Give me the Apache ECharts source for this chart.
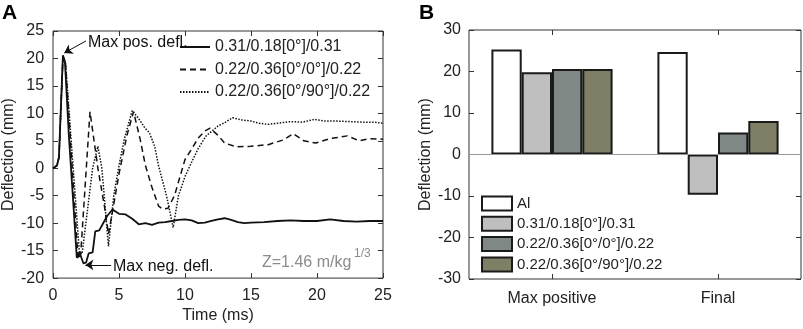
<!DOCTYPE html>
<html>
<head>
<meta charset="utf-8">
<script src="https://cdn.jsdelivr.net/npm/echarts@6/dist/echarts.min.js"></script>
<style>
  html, body { margin: 0; padding: 0; background: #fff; }
  #chart { width: 803px; height: 329px; }
</style>
</head>
<body>
<div id="chart"></div>
<script>
// panel A: deflection-time histories
const tSolid = [0, 0.3, 0.45, 0.75, 0.9, 1.2, 1.5, 1.8, 2.0, 2.3, 2.5, 2.7, 3.0, 3.2, 3.5, 3.8, 4.1, 4.5, 5.0, 5.5, 6.0, 6.5, 7.0, 7.5, 8.0, 8.5, 9.0, 9.5, 10.0, 10.5, 11.0, 11.5, 12.0, 12.5, 13.0, 13.5, 14.0, 14.5, 15.0, 16.0, 17.0, 18.0, 19.0, 20.0, 21.0, 22.0, 23.0, 24.0, 25.0]
const vSolid = [0, 0.5, 2, 20.6, 19.5, 6, -5, -16.3, -15.3, -17.3, -17.2, -15.5, -15.3, -11.5, -11.3, -10, -8.7, -7.5, -8.3, -8.4, -9.2, -10.2, -10.0, -10.3, -9.9, -9.8, -9.6, -9.4, -9.3, -9.5, -10, -9.9, -9.6, -9.3, -9.1, -9.4, -9.8, -10, -9.9, -9.8, -9.6, -9.5, -9.6, -9.6, -9.3, -9.6, -9.7, -9.6, -9.6]

const tDash = [0, 0.3, 0.45, 0.75, 0.95, 1.9, 2.1, 2.8, 3.4, 3.9, 4.2, 4.5, 5.0, 5.6, 6.1, 6.6, 7.0, 7.5, 8.0, 8.3, 8.7, 9.2, 10.0, 10.5, 11.0, 11.5, 11.9, 12.5, 13.0, 13.9, 15.0, 16.3, 17.5, 18.2, 19.0, 19.9, 21.0, 22.3, 23.2, 24.0, 25.0]
const vDash = [0, 0.5, 2, 20.3, 19, -16.6, -15.5, 10.3, 0, -7, -12, -8, -1, 6, 10.3, 5.3, 0.5, -3.5, -6.9, -7.4, -7.3, -5, 1.6, 3.5, 5.5, 6.8, 7.3, 6.0, 4.6, 3.9, 4.0, 4.3, 5.2, 6.3, 5.0, 4.6, 5.4, 5.9, 5.0, 5.4, 5.3]

const tDot = [0, 0.3, 0.45, 0.75, 0.95, 2.0, 2.2, 3.0, 3.4, 3.7, 4.2, 4.6, 5.0, 5.4, 6.0, 6.5, 7.0, 7.3, 7.7, 8.0, 8.6, 9.1, 9.5, 10.0, 10.5, 11.0, 11.6, 12.5, 13.0, 13.6, 14.3, 15.0, 15.6, 16.3, 17.0, 18.0, 18.9, 19.8, 20.6, 21.5, 22.5, 23.5, 24.3, 25.0]
const vDot = [0, 0.5, 2, 20.0, 19, -15.5, -15.6, 0, 4, 0, -14.2, -5, 0.5, 5.3, 10.5, 9, 7.2, 6.5, 4, 0.4, -5, -10.8, -5, -1.5, 1.1, 3.6, 5.9, 7.7, 8.3, 9.2, 8.8, 8.6, 8.2, 8.0, 8.2, 8.5, 8.4, 8.9, 8.6, 8.6, 8.5, 8.4, 8.4, 8.2]

const lineNames = ['0.31/0.18[0°]/0.31', '0.22/0.36[0°/0°]/0.22', '0.22/0.36[0°/90°]/0.22']

// panel B: bar values
const barCategories = ['Max positive', 'Final']
const barNames = ['Al', '0.31/0.18[0°]/0.31', '0.22/0.36[0°/0°]/0.22', '0.22/0.36[0°/90°]/0.22']
const barAl = [25.3, 24.7]
const barThin = [19.8, -9.7]
const barCross0 = [20.6, 5.3]
const barCross90 = [20.6, 8.1]
const barColors = ['#ffffff', '#bfbfbf', '#7f8884', '#7f7f66']

const font = 'Liberation Sans, Arial, sans-serif'
const zip = (t, v) => t.map((x, i) => [x, v[i]])

const chart = echarts.init(document.getElementById('chart'), null, { renderer: 'canvas' })

const tickIn = { show: true, inside: true, length: 5, lineStyle: { color: '#333' } }
const noLine = { show: false, onZero: false }
const labelStyle = { color: '#222', fontSize: 16, fontFamily: font }

const option = {
  animation: false,
  backgroundColor: '#fff',
  textStyle: { fontFamily: font },
  grid: [
    { left: 51, top: 31, width: 332, height: 248, show: true, borderColor: '#333', borderWidth: 1, backgroundColor: 'transparent' },
    { left: 469, top: 30, width: 332, height: 249, show: true, borderColor: '#333', borderWidth: 1, backgroundColor: 'transparent' }
  ],
  xAxis: [
    {
      type: 'value', gridIndex: 0, min: 0, max: 25, interval: 5,
      axisLine: noLine, axisTick: tickIn, splitLine: { show: false },
      axisLabel: { ...labelStyle, margin: 9 },
      name: 'Time (ms)', nameLocation: 'middle', nameGap: 26,
      nameTextStyle: { ...labelStyle }
    },
    {
      type: 'value', gridIndex: 0, position: 'top', min: 0, max: 25, interval: 5,
      axisLine: noLine, axisTick: tickIn, splitLine: { show: false }, axisLabel: { show: false }
    },
    {
      type: 'category', gridIndex: 1, data: barCategories,
      axisLine: noLine, axisTick: { ...tickIn, alignWithLabel: true }, splitLine: { show: false },
      axisLabel: { ...labelStyle, margin: 12 }
    },
    {
      type: 'category', gridIndex: 1, position: 'top', data: barCategories,
      axisLine: noLine, axisTick: { ...tickIn, alignWithLabel: true }, splitLine: { show: false },
      axisLabel: { show: false }
    }
  ],
  yAxis: [
    {
      type: 'value', gridIndex: 0, min: -20, max: 25, interval: 5,
      axisLine: noLine, axisTick: tickIn, splitLine: { show: false },
      axisLabel: { ...labelStyle, margin: 9 },
      name: 'Deflection (mm)', nameLocation: 'middle', nameGap: 33,
      nameTextStyle: { ...labelStyle }
    },
    {
      type: 'value', gridIndex: 0, position: 'right', min: -20, max: 25, interval: 5,
      axisLine: noLine, axisTick: tickIn, splitLine: { show: false }, axisLabel: { show: false }
    },
    {
      type: 'value', gridIndex: 1, min: -30, max: 30, interval: 10,
      axisLine: noLine, axisTick: tickIn, splitLine: { show: false },
      axisLabel: { ...labelStyle, margin: 8 },
      name: 'Deflection (mm)', nameLocation: 'middle', nameGap: 30,
      nameTextStyle: { ...labelStyle }
    },
    {
      type: 'value', gridIndex: 1, position: 'right', min: -30, max: 30, interval: 10,
      axisLine: noLine, axisTick: tickIn, splitLine: { show: false }, axisLabel: { show: false }
    }
  ],
  legend: [
    {
      data: lineNames,
      orient: 'vertical', left: 179, top: 39, padding: 0,
      itemWidth: 30, itemHeight: 14, itemGap: 6.5,
      itemStyle: { color: 'transparent', borderWidth: 0 },
      textStyle: { ...labelStyle, lineHeight: 16 }, selectedMode: false
    },
    {
      data: barNames.map(n => 'b:' + n),
      formatter: n => n.slice(2),
      orient: 'vertical', left: 481, top: 195.5, padding: 0,
      icon: 'rect', itemWidth: 30, itemHeight: 14, itemGap: 4.3,
      textStyle: { ...labelStyle, fontSize: 15, lineHeight: 15 }, selectedMode: false
    }
  ],
  series: [
    {
      name: lineNames[0], type: 'line', xAxisIndex: 0, yAxisIndex: 0,
      data: zip(tSolid, vSolid), symbol: 'none', z: 4, color: '#111',
      lineStyle: { color: '#111', width: 1.8, type: 'solid' },
      markLine: {
        silent: true, symbol: ['none', 'arrow'], symbolSize: 8,
        label: { show: false },
        lineStyle: { color: '#111', width: 1, type: 'solid' },
        data: [
          [{ coord: [2.5, 23.2] }, { coord: [0.85, 21.0] }],
          [{ coord: [4.4, -17.6] }, { coord: [2.45, -17.6] }]
        ]
      }
    },
    {
      name: lineNames[1], type: 'line', xAxisIndex: 0, yAxisIndex: 0,
      data: zip(tDash, vDash), symbol: 'none', z: 3, color: '#111',
      lineStyle: { color: '#111', width: 1.5, type: [6, 4] }
    },
    {
      name: lineNames[2], type: 'line', xAxisIndex: 0, yAxisIndex: 0,
      data: zip(tDot, vDot), symbol: 'none', z: 3, color: '#111',
      lineStyle: { color: '#111', width: 1.5, type: [1.5, 1.5] }
    },
    ...[barAl, barThin, barCross0, barCross90].map((vals, i) => ({
      name: 'b:' + barNames[i], type: 'bar', xAxisIndex: 2, yAxisIndex: 2,
      data: vals, barGap: '0%', barCategoryGap: '27%',
      itemStyle: { color: barColors[i], borderColor: '#1a1a1a', borderWidth: 2 },
      markLine: i === 0 ? {
        silent: true, symbol: 'none', label: { show: false },
        lineStyle: { color: '#999', width: 1, type: 'solid' },
        data: [{ yAxis: 0 }]
      } : undefined
    }))
  ],
  graphic: [
    { type: 'text', left: 2, top: 3, style: { text: 'A', fontSize: 21, fontWeight: 'bold', fontFamily: font, fill: '#000' } },
    { type: 'text', left: 419, top: 3, style: { text: 'B', fontSize: 21, fontWeight: 'bold', fontFamily: font, fill: '#000' } },
    { type: 'text', left: 88, top: 35, style: { text: 'Max pos. defl.', fontSize: 16, fontFamily: font, fill: '#111' } },
    { type: 'text', left: 113, top: 259, style: { text: 'Max neg. defl.', fontSize: 16, fontFamily: font, fill: '#111' } },
    { type: 'text', left: 262, top: 255, style: { text: 'Z=1.46 m/kg', fontSize: 16, fontFamily: font, fill: '#8c8c8c' } },
    { type: 'text', left: 354, top: 248, style: { text: '1/3', fontSize: 12, fontFamily: font, fill: '#8c8c8c' } }
  ]
}

chart.setOption(option)
</script>
</body>
</html>
